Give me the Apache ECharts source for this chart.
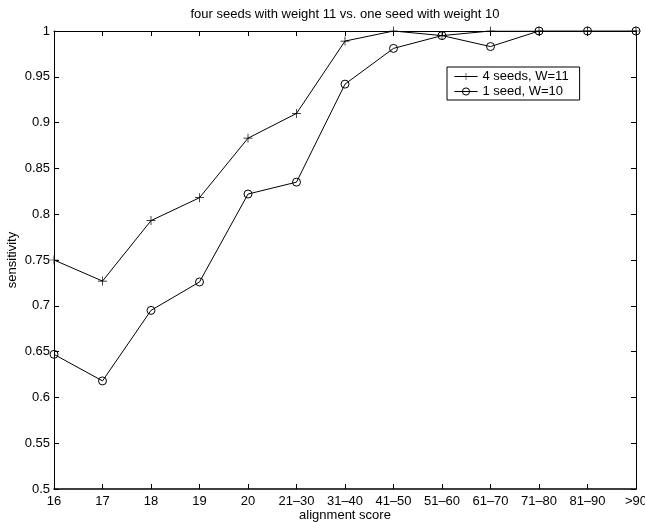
<!DOCTYPE html>
<html>
<head>
<meta charset="utf-8">
<script src="https://cdn.jsdelivr.net/npm/echarts@6/dist/echarts.min.js"></script>
<style>
  html, body { margin: 0; padding: 0; background: #fff; }
  #ec { width: 645px; height: 522px; }
</style>
</head>
<body>
<div id="ec"></div>
<script>
var categories = ['16', '17', '18', '19', '20', '21\u201330', '31\u201340', '41\u201350', '51\u201360', '61\u201370', '71\u201380', '81\u201390', '>90']
var fourSeeds = [0.750, 0.727, 0.793, 0.818, 0.883, 0.910, 0.989, 1.000, 0.995, 1.000, 1.000, 1.000, 1.000]
var oneSeed = [0.647, 0.618, 0.695, 0.726, 0.822, 0.835, 0.942, 0.981, 0.995, 0.983, 1.000, 1.000, 1.000]
var yTicks = { min: 0.5, max: 1, step: 0.05 }

var font = 'Liberation Sans, Arial, Helvetica, sans-serif'
var plusPath = 'path://M0,4.6h10v0.8h-10z M4.6,0h0.8v10h-0.8z'

var chart = echarts.init(document.getElementById('ec'))
chart.setOption({
  animation: false,
  backgroundColor: '#fff',
  textStyle: { fontFamily: font },
  title: {
    text: 'four seeds with weight 11 vs. one seed with weight 10',
    left: 345,
    textAlign: 'center',
    top: 8,
    padding: 0,
    textStyle: { fontSize: 13, fontWeight: 'normal', color: '#000', fontFamily: font }
  },
  legend: {
    orient: 'vertical',
    left: 447,
    top: 67,
    itemWidth: 23,
    itemHeight: 9,
    itemGap: 2,
    padding: [3, 11, 2, 7],
    borderColor: '#000',
    borderWidth: 1,
    backgroundColor: '#fff',
    selectedMode: false,
    lineStyle: { width: 1 },
    textStyle: { fontSize: 13, lineHeight: 13, color: '#000', fontFamily: font },
    data: [
      { name: '4 seeds, W=11' },
      { name: '1 seed, W=10', itemStyle: { color: 'rgba(0,0,0,0)', borderColor: '#000', borderWidth: 1 } }
    ]
  },
  grid: { left: 54, right: 9, top: 31, bottom: 33, outerBoundsMode: 'none', containLabel: false },
  xAxis: [
    {
      type: 'category',
      data: categories,
      boundaryGap: false,
      name: 'alignment score',
      nameLocation: 'middle',
      nameGap: 20,
      nameMoveOverlap: false,
      nameTextStyle: { fontSize: 13, color: '#000' },
      axisLine: { lineStyle: { color: '#000', width: 1.5 } },
      axisTick: { inside: true, length: 5, alignWithLabel: true, lineStyle: { color: '#000' } },
      axisLabel: { color: '#000', fontSize: 13, margin: 6, interval: 0 },
      splitLine: { show: false }
    },
    {
      type: 'category',
      data: categories,
      boundaryGap: false,
      position: 'top',
      axisLine: { lineStyle: { color: '#000', width: 1 } },
      axisTick: { inside: true, length: 5, alignWithLabel: true, lineStyle: { color: '#000' } },
      axisLabel: { show: false },
      splitLine: { show: false }
    }
  ],
  yAxis: [
    {
      type: 'value',
      min: yTicks.min,
      max: yTicks.max,
      interval: yTicks.step,
      name: 'sensitivity',
      nameLocation: 'middle',
      nameGap: 35,
      nameMoveOverlap: false,
      nameTextStyle: { fontSize: 13, color: '#000' },
      axisLine: { show: true, lineStyle: { color: '#000', width: 1 } },
      axisTick: { show: true, inside: true, length: 5, lineStyle: { color: '#000' } },
      axisLabel: {
        color: '#000', fontSize: 13, margin: 4,
        formatter: function (v) { return String(+v.toFixed(2)) }
      },
      splitLine: { show: false }
    },
    {
      type: 'value',
      min: yTicks.min,
      max: yTicks.max,
      interval: yTicks.step,
      position: 'right',
      axisLine: { show: true, lineStyle: { color: '#000', width: 1 } },
      axisTick: { show: true, inside: true, length: 5, lineStyle: { color: '#000' } },
      axisLabel: { show: false },
      splitLine: { show: false }
    }
  ],
  series: [
    {
      name: '4 seeds, W=11',
      type: 'line',
      data: fourSeeds,
      symbol: plusPath,
      symbolSize: 9,
      showAllSymbol: true,
      itemStyle: { color: '#000' },
      lineStyle: { color: '#000', width: 1 },
      z: 3
    },
    {
      name: '1 seed, W=10',
      type: 'line',
      data: oneSeed,
      symbol: 'circle',
      symbolSize: 8,
      showAllSymbol: true,
      itemStyle: { color: 'rgba(0,0,0,0)', borderColor: '#000', borderWidth: 1 },
      lineStyle: { color: '#000', width: 1 },
      z: 2
    }
  ]
}, true)
</script>
</body>
</html>
